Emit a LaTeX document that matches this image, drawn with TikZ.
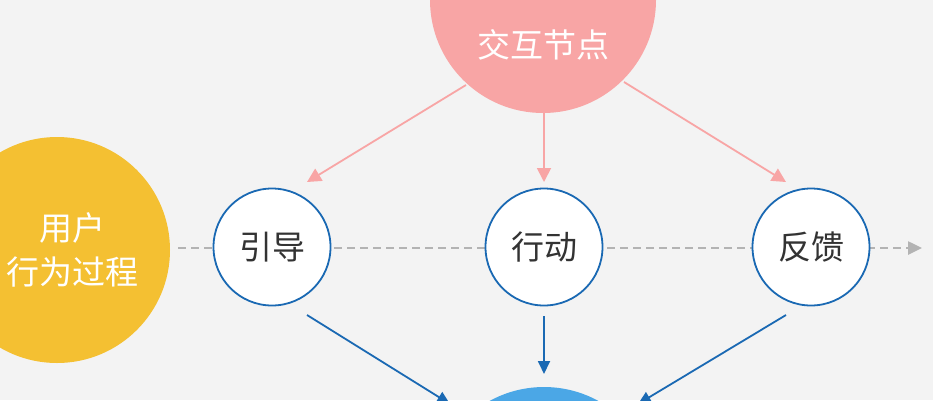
\documentclass[tikz,border=0pt]{standalone}
\usepackage{fontspec}
\usepackage{xcolor}
\usepackage{tikz}
\usetikzlibrary{arrows.meta}
\newfontfamily\cjk{Noto Sans CJK SC}

\definecolor{bgcol}{HTML}{F3F3F3}
\definecolor{pinkcol}{HTML}{F8A5A5}
\definecolor{yellowcol}{HTML}{F4C032}
\definecolor{bluecol}{HTML}{1A69B3}
\definecolor{skycol}{HTML}{4BA7E6}
\definecolor{graycol}{HTML}{B3B3B3}
\definecolor{textcol}{HTML}{333333}

\tikzset{
  bigdisc/.style={circle, minimum size=226pt, inner sep=0pt},
  stagenode/.style={circle, draw=bluecol, line width=1.8pt, fill=white,
    minimum size=117pt, inner sep=0pt, text=textcol, font=\cjk\fontsize{33}{44}\selectfont},
  whitetext/.style={text=white, align=center, font=\cjk\fontsize{33}{44}\selectfont},
  pinkarrow/.style={draw=pinkcol, line width=1.8pt, -{Triangle[length=14pt,width=14pt]}},
  bluearrow/.style={draw=bluecol, line width=1.8pt, -{Triangle[length=13pt,width=12pt]}},
  flowline/.style={draw=graycol, line width=2.5pt, dash pattern=on 8pt off 5pt,
    -{Triangle[length=14pt,width=13pt]}}
}

\begin{document}
\begin{tikzpicture}[x=1pt,y=-1pt]

% Background and frame
\clip (0,0) rectangle (933,400);
\fill[bgcol] (0,0) rectangle (933,400);

% Big discs
\node[bigdisc, fill=pinkcol] (hub) at (543,0) {};
\node[whitetext] (hubtext) at (543,45) {交互节点};
\node[bigdisc, fill=yellowcol] (user) at (57,250) {};
\node[whitetext] (usertext) at (72,250) {用户\\行为过程};
\node[bigdisc, fill=skycol] (result) at (544,500) {};

% Dashed process line
\coordinate (flowstart) at (178,248);
\coordinate (flowend) at (922,248);
\draw[flowline] (flowstart) -- (flowend);

% Stage circles
\node[stagenode] (guide) at (272,247) {引导};
\node[stagenode] (act) at (544,247) {行动};
\node[stagenode] (feedback) at (811,247) {反馈};

% Pink arrows from the hub
\coordinate (hubleft) at (466,85);
\coordinate (hubmid) at (544,112);
\coordinate (hubright) at (624,82);
\coordinate (guidetop) at (307,182);
\coordinate (acttop) at (544,182);
\coordinate (feedbacktop) at (786,182);
\draw[pinkarrow] (hubleft) -- (guidetop);
\draw[pinkarrow] (hubmid) -- (acttop);
\draw[pinkarrow] (hubright) -- (feedbacktop);

% Blue arrows down to the result
\coordinate (guidebot) at (307,315);
\coordinate (actbot) at (544,316);
\coordinate (feedbackbot) at (786,315);
\coordinate (resleft) at (450,404);
\coordinate (resmid) at (544,374);
\coordinate (resright) at (638,404);
\draw[bluearrow] (guidebot) -- (resleft);
\draw[bluearrow] (actbot) -- (resmid);
\draw[bluearrow] (feedbackbot) -- (resright);

\end{tikzpicture}
\end{document}
